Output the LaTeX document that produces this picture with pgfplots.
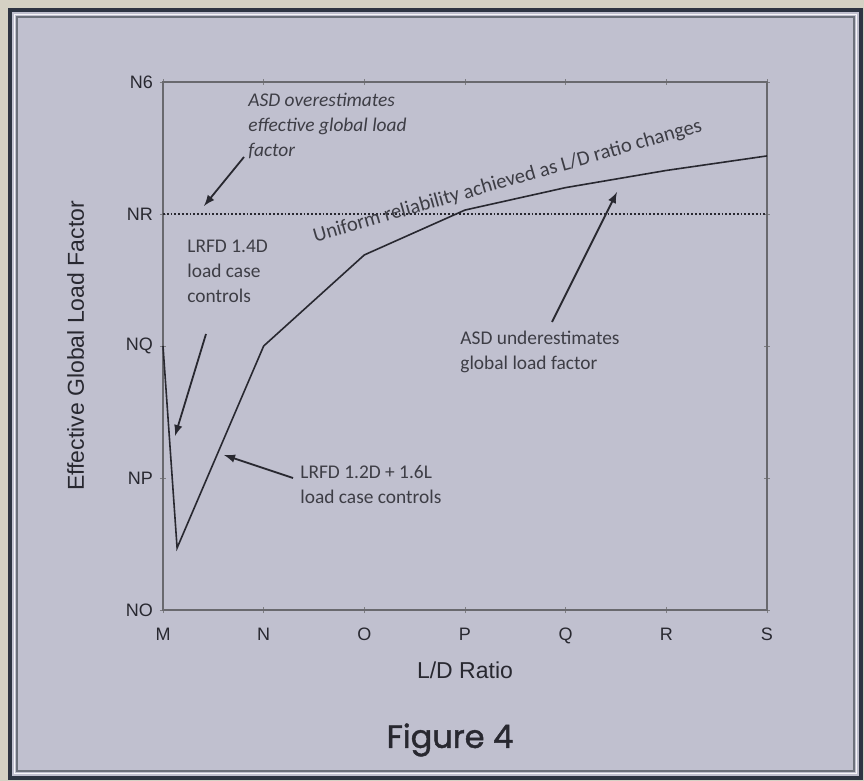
\documentclass[border=0pt]{standalone}
\usepackage{pgfplots}
\pgfplotsset{compat=1.18}
\usepackage{fontspec}
\setmainfont{Liberation Sans}
\newfontfamily\notefont{Carlito}
\newfontfamily\figfont[FakeBold=1.5]{Poppins}
\definecolor{paper}{RGB}{212,209,196}
\definecolor{panel}{RGB}{192,192,207}
\definecolor{rim}{RGB}{45,52,66}
\definecolor{ink}{RGB}{40,40,48}

\begin{document}
\begin{tikzpicture}[x=0.5pt,y=-0.5pt]
% page and frame
\fill[paper] (0,0) rectangle (864,781);
\fill[panel] (10,10) rectangle (861,778);
\draw[rim,line width=2pt] (10,10) rectangle (861,778);
\draw[white!85!panel,line width=0.6pt] (14.5,14.5) rectangle (856.5,773.5);
\draw[rim!70,line width=0.6pt] (17,17) rectangle (854,771);
\coordinate (O) at (163,610);

\begin{axis}[
  at={(O)}, anchor=origin,
  scale only axis, width=302pt, height=264pt,
  xmin=0, xmax=6, ymin=0, ymax=4,
  xtick={0,...,6}, ytick={0,...,4},
  xticklabels={M,N,O,P,Q,R,S},
  yticklabels={NO,NP,NQ,NR,N6},
  tick align=center, major tick length=3pt,
  tick style={ink!60, line width=0.4pt},
  axis line style={ink!70, line width=0.6pt},
  every tick label/.append style={font=\fontsize{9}{10}\selectfont, text=ink},
  xticklabel style={yshift=-4pt},
  xlabel={L/D Ratio}, ylabel={Effective Global Load Factor},
  label style={font=\fontsize{11.5}{13}\selectfont, text=ink},
  xlabel style={yshift=-2pt},
  ylabel style={yshift=14pt},
  clip=false,
]
% reference level
\addplot[ink, densely dotted, line width=0.9pt] coordinates {(0,3) (6,3)};
% effective global load factor
\addplot[ink, line width=0.8pt] coordinates {
  (0,2.00) (0.14,0.47) (1,2.00) (2,2.69) (3,3.03) (4,3.20) (5,3.33) (6,3.44)};
\end{axis}

% annotations
\begin{scope}[every node/.style={font=\notefont\fontsize{9.7}{12.5}\selectfont, text=ink!90, inner sep=0pt, align=left}]
\node[anchor=north west] at (248,93) {\itshape ASD overestimates\\\itshape effective global load\\\itshape factor};
\draw[ink, line width=0.9pt, -latex] (244,157) -- (204,206);
\node[anchor=north west] at (187,240) {LRFD 1.4D\\load case\\controls};
\draw[ink, line width=0.9pt, -latex] (206,334) -- (175,436);
\node[anchor=north west] at (300,465) {LRFD 1.2D + 1.6L\\load case controls};
\draw[ink, line width=0.9pt, -latex] (293,478) -- (224,455);
\node[anchor=north west] at (460,331) {ASD underestimates\\global load factor};
\draw[ink, line width=0.9pt, -latex] (552,322) -- (617,192);
\node[anchor=south west, rotate=16, font=\notefont\fontsize{10.3}{12}\selectfont] at (316,246) {Uniform reliability achieved as L/D ratio changes};
\end{scope}

\node[font=\figfont\fontsize{16}{18}\selectfont, text=ink] at (450,740) {Figure 4};
\end{tikzpicture}
\end{document}
